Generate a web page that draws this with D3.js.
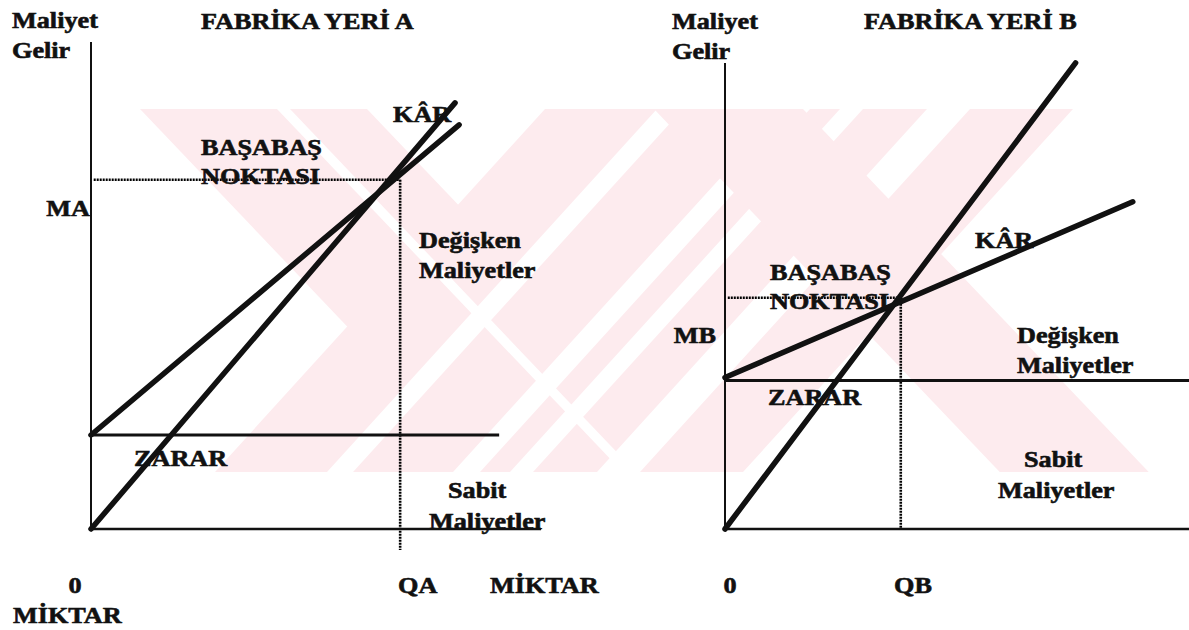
<!DOCTYPE html>
<html>
<head>
<meta charset="utf-8">
<script src="https://cdn.jsdelivr.net/npm/d3@7"></script>
<style>
  body { margin: 0; background: #fff; }
  svg { display: block; }
  .lbl { font-family: 'Liberation Serif', 'Times New Roman', serif; font-weight: bold; font-size: 23px; fill: #111; stroke: #111; stroke-width: 0.6px; }
</style>
</head>
<body>
<script>
// values, in axis units (0-100 on both axes)
const titles = ['FABRİKA YERİ A', 'FABRİKA YERİ B'];
const axisTop = [100, 95.7];
const baselineEnd = [100, 100];
const fixedCost = [19.3, 30.5];
const fixedCostEnd = [90.7, 100];
const revenueEnd = [[80.9, 87.5], [75.4, 95.7]];
const totalCostStart = [19.3, 31.1];
const totalCostEnd = [[81.8, 83.0], [87.7, 67.2]];
const breakEven = [[68.7, 71.7], [37.8, 47.5]];
const qLabels = ['QA', 'QB'];
const mLabels = ['MA', 'MB'];

// watermark stripes (top x ranges)
const wmBack = [[140, 367], [654, 803]];
const wmSlash = [[545, 1073]];
const wmWhiteBack = [[277, 290]];
const wmWhiteSlash = [[657, 683], [783, 810], [840, 863], [927, 970]];

const width = 1189, height = 630;
const svg = d3.select('body').append('svg')
  .attr('width', width)
  .attr('height', height);

// watermark
const pink = '#fdebee';
const wmTop = 109, wmBottom = 472;
const backDx = (wmBottom - wmTop) / 1.05;
const slashDx = (wmBottom - wmTop) / 1.1;
const wm = svg.append('g');
function backBand(r) {
  return [[r[0], wmTop], [r[1], wmTop], [r[1] + backDx, wmBottom], [r[0] + backDx, wmBottom]];
}
function slashBand(r) {
  return [[r[0], wmTop], [r[1], wmTop], [r[1] - slashDx, wmBottom], [r[0] - slashDx, wmBottom]];
}
const poly = d3.line();
wm.append('path').attr('d', poly(backBand(wmBack[0])) + 'Z').attr('fill', pink);
wmSlash.forEach(r => wm.append('path').attr('d', poly(slashBand(r)) + 'Z').attr('fill', pink));
wmWhiteBack.forEach(r => wm.append('path').attr('d', poly(backBand(r)) + 'Z').attr('fill', '#fff'));
wmWhiteSlash.forEach(r => wm.append('path').attr('d', poly(slashBand(r)) + 'Z').attr('fill', '#fff'));
wm.append('path').attr('d', poly(backBand(wmBack[1])) + 'Z').attr('fill', pink);

function label(g, str, x, y, anchor) {
  g.append('text')
    .attr('class', 'lbl')
    .attr('transform', `translate(${x},${y}) scale(1.14,1)`)
    .attr('text-anchor', anchor || 'start')
    .text(str);
}

const y = d3.scaleLinear().domain([0, 100]).range([529, 42]);
const xScales = [
  d3.scaleLinear().domain([0, 100]).range([91, 541]),
  d3.scaleLinear().domain([0, 100]).range([725, 1190])
];

function drawPanel(i) {
  const x = xScales[i];
  const g = svg.append('g');
  const line = d3.line().x(d => x(d[0])).y(d => y(d[1]));

  // dotted break-even guides
  const be = breakEven[i];
  g.append('path')
    .attr('d', line([[0.6, be[1]], be]))
    .attr('stroke', '#000').attr('stroke-width', 2.6)
    .attr('stroke-dasharray', '2,1').attr('fill', 'none');
  g.append('path')
    .attr('d', line([be, [be[0], i === 0 ? -4.3 : 0]]))
    .attr('stroke', '#000').attr('stroke-width', 2.6)
    .attr('stroke-dasharray', '2,1').attr('fill', 'none');

  // axes
  g.append('path').attr('d', line([[0, 0], [0, axisTop[i]]]))
    .attr('stroke', '#111').attr('stroke-width', 2).attr('fill', 'none');
  g.append('path').attr('d', line([[0, 0], [baselineEnd[i], 0]]))
    .attr('stroke', '#111').attr('stroke-width', 2.5).attr('fill', 'none');

  // fixed cost
  g.append('path').attr('d', line([[0, fixedCost[i]], [fixedCostEnd[i], fixedCost[i]]]))
    .attr('stroke', '#111').attr('stroke-width', 3).attr('fill', 'none');

  // revenue and total cost
  g.append('path').attr('d', line([[0, 0], revenueEnd[i]]))
    .attr('stroke', '#111').attr('stroke-width', 5.5).attr('stroke-linecap', 'round').attr('fill', 'none');
  g.append('path').attr('d', line([[0, totalCostStart[i]], totalCostEnd[i]]))
    .attr('stroke', '#111').attr('stroke-width', 5.5).attr('stroke-linecap', 'round').attr('fill', 'none');
}

drawPanel(0);
drawPanel(1);

// texts, panel A
const t = svg.append('g');
label(t, 'Maliyet', 12, 28);
label(t, 'Gelir', 12, 58);
label(t, titles[0], 201, 29);
label(t, 'KÂR', 393, 122);
label(t, 'BAŞABAŞ', 201, 155);
label(t, 'NOKTASI', 201, 184);
label(t, mLabels[0], 90, 216, 'end');
label(t, 'Değişken', 419, 248);
label(t, 'Maliyetler', 419, 278);
label(t, 'ZARAR', 134, 466);
label(t, 'Sabit', 448, 498);
label(t, 'Maliyetler', 429, 529);
label(t, '0', 75, 593, 'middle');
label(t, qLabels[0], 398, 593);
label(t, 'MİKTAR', 490, 593);
label(t, 'MİKTAR', 13, 623);

// texts, panel B
label(t, 'Maliyet', 672, 29);
label(t, 'Gelir', 672, 59);
label(t, titles[1], 864, 29);
label(t, 'KÂR', 975, 248);
label(t, 'BAŞABAŞ', 770, 280);
label(t, 'NOKTASI', 770, 309);
label(t, mLabels[1], 716, 343, 'end');
label(t, 'Değişken', 1017, 343);
label(t, 'Maliyetler', 1017, 373);
label(t, 'ZARAR', 768, 405);
label(t, 'Sabit', 1024, 467);
label(t, 'Maliyetler', 998, 498);
label(t, '0', 730, 593, 'middle');
label(t, qLabels[1], 894, 593);
</script>
</body>
</html>
